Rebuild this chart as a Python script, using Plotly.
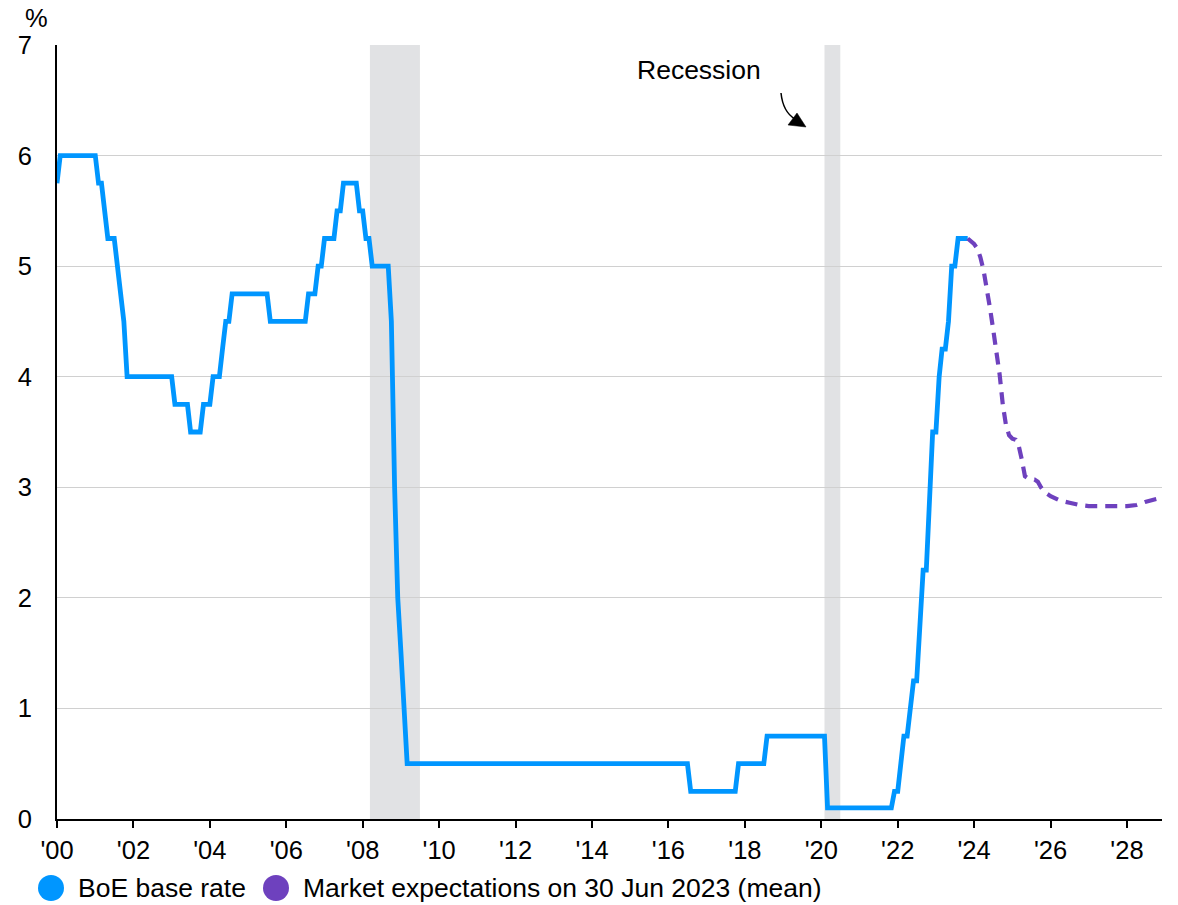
import plotly.graph_objects as go

# Bank of England base rate, % (vertices of the monthly series)
base_dates = [
    "2000-01-01", "2000-02-01", "2001-01-01", "2001-02-01", "2001-03-01", "2001-04-01",
    "2001-05-01", "2001-07-01", "2001-08-01", "2001-09-01", "2001-10-01", "2001-11-01",
    "2003-01-01", "2003-02-01", "2003-06-01", "2003-07-01", "2003-10-01", "2003-11-01",
    "2004-01-01", "2004-02-01", "2004-04-01", "2004-05-01", "2004-06-01", "2004-07-01",
    "2004-08-01", "2005-07-01", "2005-08-01", "2006-07-01", "2006-08-01", "2006-10-01",
    "2006-11-01", "2006-12-01", "2007-01-01", "2007-04-01", "2007-05-01", "2007-06-01",
    "2007-07-01", "2007-11-01", "2007-12-01", "2008-01-01", "2008-02-01", "2008-03-01",
    "2008-04-01", "2008-09-01", "2008-10-01", "2008-11-01", "2008-12-01", "2009-01-01",
    "2009-02-01", "2009-03-01", "2016-07-01", "2016-08-01", "2017-10-01", "2017-11-01",
    "2018-07-01", "2018-08-01", "2020-02-01", "2020-03-01", "2021-11-01", "2021-12-01",
    "2022-01-01", "2022-02-01", "2022-03-01", "2022-04-01", "2022-05-01", "2022-06-01",
    "2022-07-01", "2022-08-01", "2022-09-01", "2022-10-01", "2022-11-01", "2022-12-01",
    "2023-01-01", "2023-02-01", "2023-03-01", "2023-04-01", "2023-05-01", "2023-06-01",
    "2023-07-01", "2023-08-01", "2023-11-01",
]
base_rate = [
    5.75, 6.00, 6.00, 5.75, 5.75, 5.50,
    5.25, 5.25, 5.00, 4.75, 4.50, 4.00,
    4.00, 3.75, 3.75, 3.50, 3.50, 3.75,
    3.75, 4.00, 4.00, 4.25, 4.50, 4.50,
    4.75, 4.75, 4.50, 4.50, 4.75, 4.75,
    5.00, 5.00, 5.25, 5.25, 5.50, 5.50,
    5.75, 5.75, 5.50, 5.50, 5.25, 5.25,
    5.00, 5.00, 4.50, 3.00, 2.00, 1.50,
    1.00, 0.50, 0.50, 0.25, 0.25, 0.50,
    0.50, 0.75, 0.75, 0.10, 0.10, 0.25,
    0.25, 0.50, 0.75, 0.75, 1.00, 1.25,
    1.25, 1.75, 2.25, 2.25, 3.00, 3.50,
    3.50, 4.00, 4.25, 4.25, 4.50, 5.00,
    5.00, 5.25, 5.25,
]

# Market-implied path of Bank Rate on 30 Jun 2023 (mean), %
mkt_dates = [
    "2023-11-01", "2023-12-01", "2024-01-01", "2024-02-01", "2024-03-01", "2024-04-01",
    "2024-05-01", "2024-06-01", "2024-07-01", "2024-08-01", "2024-09-01", "2024-10-01",
    "2024-11-01", "2024-12-01", "2025-01-01", "2025-02-01", "2025-03-01", "2025-04-01",
    "2025-05-01", "2025-06-01", "2025-07-01", "2025-08-01", "2025-09-01", "2025-10-01",
    "2025-11-01", "2026-01-01", "2026-04-01", "2026-07-01", "2026-10-01", "2027-01-01",
    "2027-07-01", "2028-01-01", "2028-04-01", "2028-07-01", "2028-11-01",
]
mkt_rate = [
    5.25, 5.23, 5.20, 5.16, 5.08, 4.96,
    4.81, 4.62, 4.43, 4.23, 4.02, 3.75,
    3.56, 3.47, 3.44, 3.43, 3.38, 3.25,
    3.10, 3.08, 3.07, 3.07, 3.05, 3.00,
    2.96, 2.92, 2.88, 2.86, 2.84, 2.83,
    2.83, 2.83, 2.84, 2.87, 2.90,
]

# UK recessions
rec_start = ["2008-03-10", "2020-02-01"]
rec_end = ["2009-07-01", "2020-07-01"]

tick_dates = [f"{y}-01-01" for y in range(2000, 2029, 2)]
tick_labels = ["'00", "'02", "'04", "'06", "'08", "'10", "'12", "'14",
               "'16", "'18", "'20", "'22", "'24", "'26", "'28"]
y_ticks = [0, 1, 2, 3, 4, 5, 6, 7]

BLUE = "#0096FF"
PURPLE = "#6E41BE"
FONT = "Liberation Sans, Arial, sans-serif"
FS_TICK = 25.5
FS_TEXT = 26.5

# plot area in pixels
W, H = 1178, 905
L, R, T, B = 57, 16, 45, 86
PW, PH = W - L - R, H - T - B


def px(x):
    return (x - L) / PW


def py(y):
    return (H - B - y) / PH


fig = go.Figure()
fig.add_trace(go.Scatter(x=base_dates, y=base_rate, mode="lines",
                         line=dict(color=BLUE, width=4.8), showlegend=False,
                         name="BoE base rate"))
fig.add_trace(go.Scatter(x=mkt_dates, y=mkt_rate, mode="lines",
                         line=dict(color=PURPLE, width=4.2, dash="12px,8px"),
                         showlegend=False,
                         name="Market expectations on 30 Jun 2023 (mean)"))

shapes = []
for s, e in zip(rec_start, rec_end):
    shapes.append(dict(type="rect", xref="x", yref="paper", x0=s, x1=e, y0=0, y1=1,
                       fillcolor="#E1E2E4", line=dict(width=0), layer="below"))

# curved pointer from the label to the recession band
shapes.append(dict(type="path", xref="paper", yref="paper",
                   path=f"M {px(781)},{py(93)} Q {px(783)},{py(112)} {px(795)},{py(119)}",
                   line=dict(color="black", width=1.5)))
shapes.append(dict(type="path", xref="paper", yref="paper",
                   path=f"M {px(788)},{py(125)} L {px(806)},{py(127)} L {px(797)},{py(113)} Z",
                   fillcolor="black", line=dict(color="black", width=0.5)))

# legend swatches
for cx, col in [(51, BLUE), (276, PURPLE)]:
    shapes.append(dict(type="circle", xref="paper", yref="paper",
                       x0=px(cx - 13), x1=px(cx + 13), y0=py(888 + 13), y1=py(888 - 13),
                       fillcolor=col, line=dict(width=0)))

annotations = [
    dict(text="%", xref="paper", yref="paper", x=px(36), y=py(18), showarrow=False,
         font=dict(size=FS_TICK, color="black", family=FONT), xanchor="center", yanchor="middle"),
    dict(text="Recession", xref="paper", yref="paper", x=px(699), y=py(70), showarrow=False,
         font=dict(size=FS_TEXT, color="black", family=FONT), xanchor="center", yanchor="middle"),
    dict(text="BoE base rate", xref="paper", yref="paper", x=px(76), y=py(888),
         showarrow=False, font=dict(size=FS_TEXT, color="black", family=FONT),
         xanchor="left", yanchor="middle"),
    dict(text="Market expectations on 30 Jun 2023 (mean)", xref="paper", yref="paper",
         x=px(301), y=py(888), showarrow=False,
         font=dict(size=FS_TEXT, color="black", family=FONT), xanchor="left", yanchor="middle"),
]

fig.update_layout(
    width=W, height=H,
    margin=dict(l=L, r=R, t=T, b=B, pad=0),
    paper_bgcolor="white", plot_bgcolor="white",
    font=dict(family=FONT, size=FS_TICK, color="black"),
    shapes=shapes, annotations=annotations, showlegend=False,
    xaxis=dict(type="date", range=["2000-01-01", "2028-12-01"],
               tickvals=tick_dates, ticktext=tick_labels,
               ticks="outside", ticklen=7, tickwidth=2, tickcolor="black",
               showline=True, linecolor="black", linewidth=2,
               showgrid=False, zeroline=False, tickfont=dict(size=FS_TICK)),
    yaxis=dict(range=[0, 7], tickvals=y_ticks, ticks="", showline=True,
               linecolor="black", linewidth=2, showgrid=True, gridcolor="#D0D0D0",
               gridwidth=1, zeroline=False, tickfont=dict(size=FS_TICK),
               ticklabelstandoff=18),
)

fig.write_html("out.html")
